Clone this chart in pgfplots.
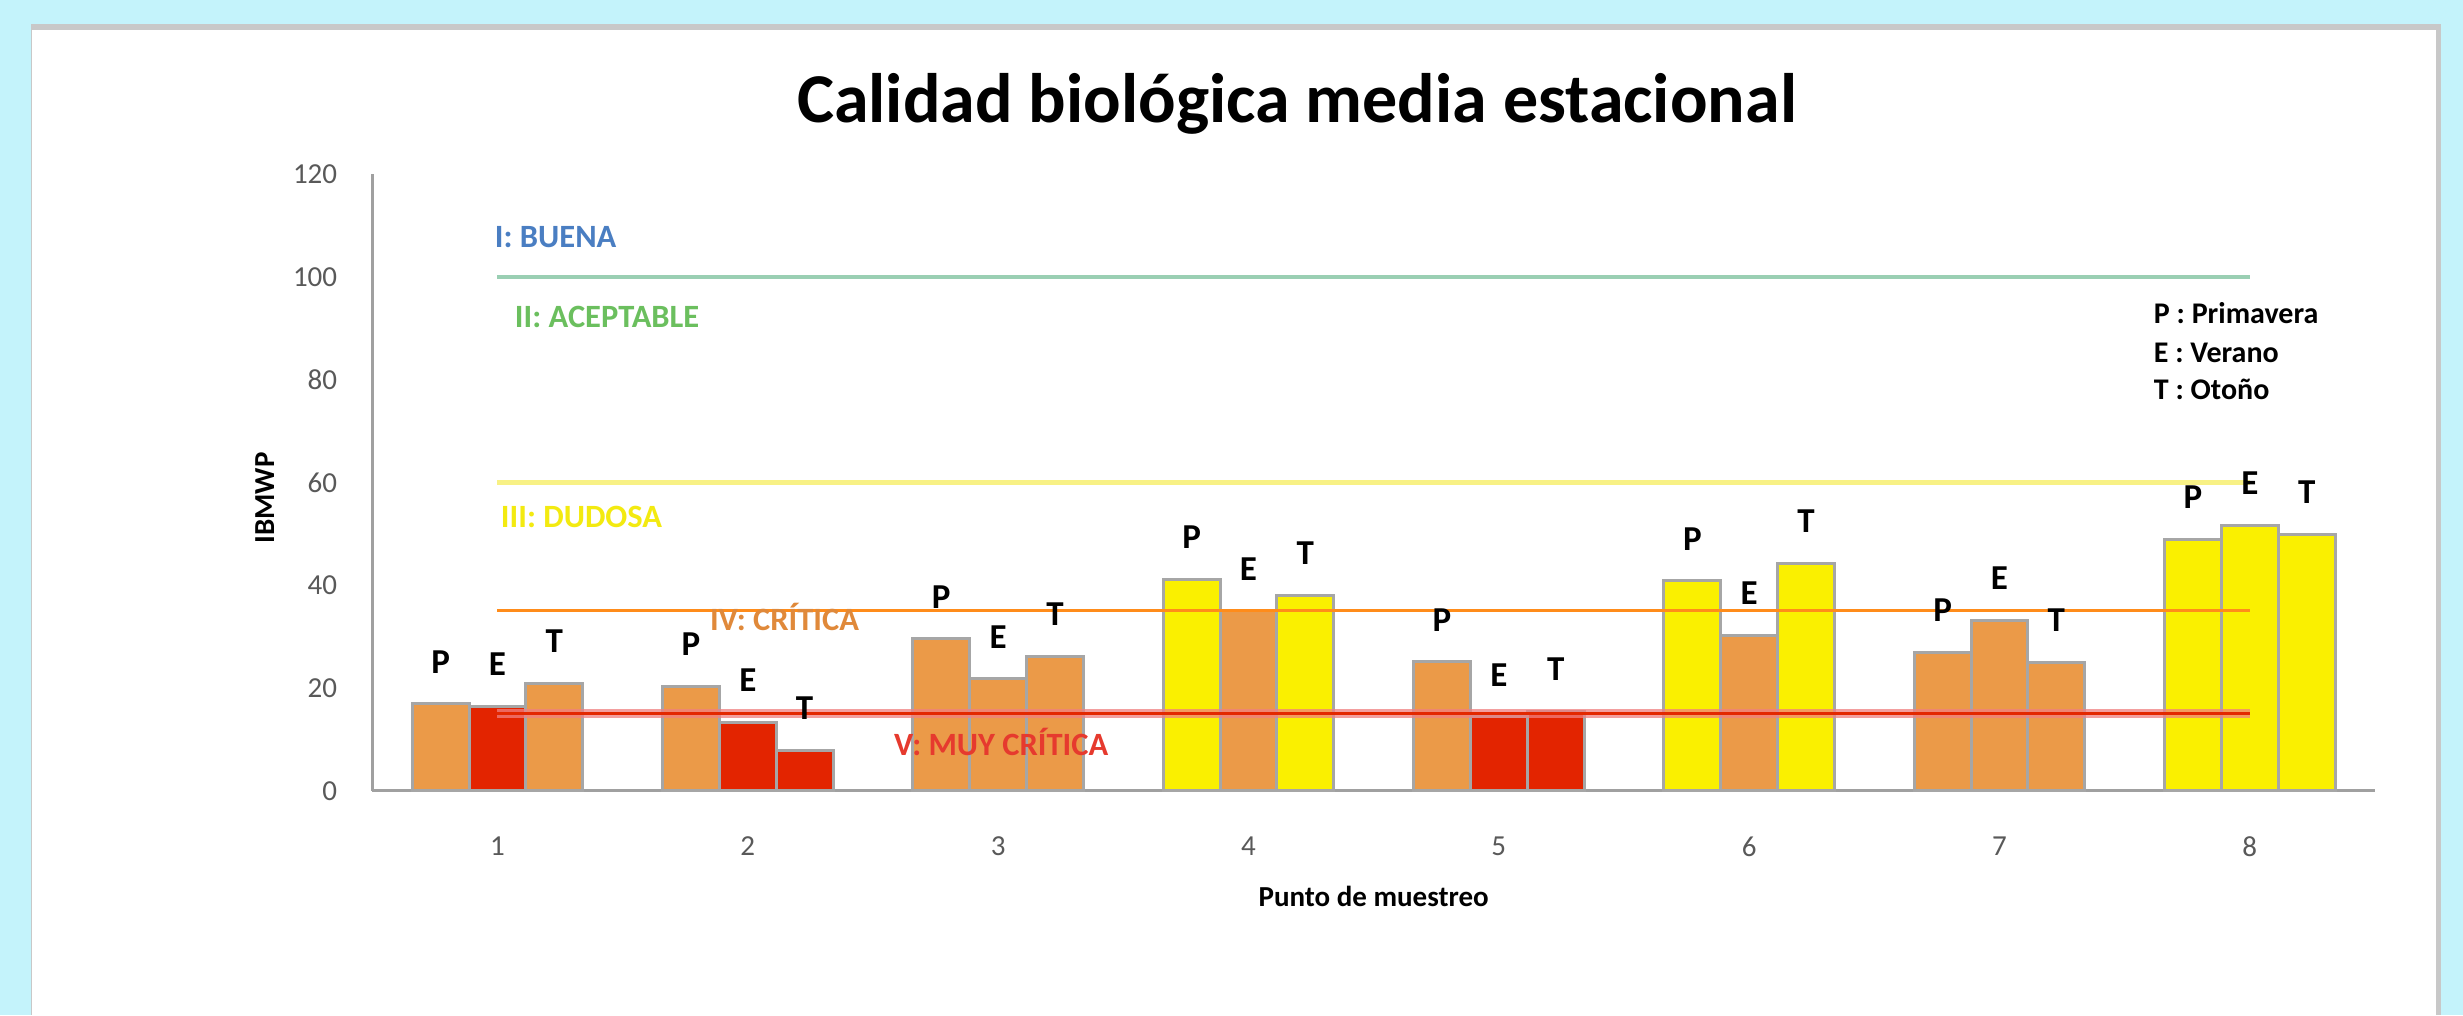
\documentclass[border=0pt]{standalone}
\usepackage{pgfplots}
\pgfplotsset{compat=1.18}
\usepackage{fontspec}
\setmainfont{Carlito}

\definecolor{bgcyan}{HTML}{C4F3FB}
\definecolor{panelgray}{HTML}{C8C8C8}
\definecolor{axisgray}{HTML}{A0A0A0}
\definecolor{tickgray}{HTML}{595959}
\definecolor{bordergray}{HTML}{A6A6A6}
\definecolor{cOr}{HTML}{EB9A48}
\definecolor{cRe}{HTML}{E32400}
\definecolor{cYe}{HTML}{FAF000}
\definecolor{lGreen}{HTML}{9ACFB3}
\definecolor{lYellow}{HTML}{F8F185}
\definecolor{lOrange}{HTML}{FF8C1A}
\definecolor{lRed}{HTML}{E32800}
\definecolor{lRedHalo}{HTML}{F08080}
\definecolor{tBlue}{HTML}{4A7EC2}
\definecolor{tGreen}{HTML}{6BBF5E}
\definecolor{tYellow}{HTML}{F3EA10}
\definecolor{tOrange}{HTML}{E0893A}
\definecolor{tRed}{HTML}{E63A2E}

\pgfplotsset{
  barbase/.style={ybar, bar width=0.227, draw=bordergray, line width=0.6pt},
  barP/.style={barbase, bar shift=-0.227, nodes near coords={P},
    every node near coord/.append style={font=\bfseries\fontsize{7}{8}\selectfont, text=black, yshift=2.5pt, xshift=-11.37pt}},
  barE/.style={barbase, bar shift=0, nodes near coords={E},
    every node near coord/.append style={font=\bfseries\fontsize{7}{8}\selectfont, text=black, yshift=2.5pt}},
  barT/.style={barbase, bar shift=0.227, nodes near coords={T},
    every node near coord/.append style={font=\bfseries\fontsize{7}{8}\selectfont, text=black, yshift=2.5pt, xshift=11.37pt}},
}

\begin{document}
\begin{tikzpicture}
\fill[bgcyan] (0,0) rectangle (492.6pt,203pt);
\fill[white] (6.2pt,0) rectangle (488.2pt,198.2pt);
\fill[panelgray] (6.2pt,197.0pt) rectangle (488.2pt,198.2pt);
\fill[panelgray] (487.2pt,0) rectangle (488.2pt,198.2pt);
\draw[panelgray, line width=0.3pt] (6.3pt,0) -- (6.3pt,198.2pt);

\begin{axis}[
  at={(74.46pt,44.86pt)}, anchor=south west,
  scale only axis, width=400.54pt, height=123.24pt,
  xmin=0.5, xmax=8.5, ymin=0, ymax=120,
  axis x line*=bottom, axis y line*=left,
  axis line style={draw=axisgray, line width=0.6pt},
  xtick={1,2,3,4,5,6,7,8}, ytick={0,20,40,60,80,100,120},
  major tick length=0pt,
  tick label style={font=\fontsize{5.8}{7}\selectfont, text=tickgray},
  /pgf/number format/assume math mode=true,
  xticklabel style={yshift=-5.7pt},
  yticklabel style={xshift=-3.5pt},
  xlabel={Punto de muestreo},
  xlabel style={at={(axis description cs:0.5,0)}, anchor=base, yshift=-23.2pt, font=\bfseries\fontsize{5.8}{7}\selectfont},
  ylabel={IBMWP},
  ylabel style={at={(axis description cs:-0.0537,0.475)}, anchor=center, font=\bfseries\fontsize{5.8}{7}\selectfont},
  title={Calidad biológica media estacional},
  title style={at={(axis description cs:0.4617,1)}, anchor=base, yshift=4.3pt, font=\bfseries\fontsize{14}{16}\selectfont},
  clip=false,
]
% Primavera
\addplot[barP, fill=cOr] coordinates {(1,16.9) (2,20.3) (3,29.6) (5,25.1) (7,26.9)};
\addplot[barP, fill=cYe] coordinates {(4,41.2) (6,40.9) (8,49.0)};
% Verano
\addplot[barE, fill=cRe] coordinates {(1,16.4) (2,13.3) (5,14.4)};
\addplot[barE, fill=cOr] coordinates {(3,21.8) (4,35.0) (6,30.3) (7,33.2)};
\addplot[barE, fill=cYe] coordinates {(8,51.7)};
% Otono
\addplot[barT, fill=cOr] coordinates {(1,20.9) (3,26.2) (7,25.0)};
\addplot[barT, fill=cRe] coordinates {(2,7.8) (5,15.4)};
\addplot[barT, fill=cYe] coordinates {(4,38.0) (6,44.3) (8,49.9)};

% threshold lines
\addplot[lGreen, line width=0.7pt, mark=none] coordinates {(1,100) (8,100)};
\addplot[lYellow, line width=1.0pt, mark=none] coordinates {(1,60) (8,60)};
\addplot[lOrange, line width=0.6pt, mark=none] coordinates {(1,35) (8,35)};
\addplot[lRedHalo, line width=1.9pt, opacity=0.75, mark=none] coordinates {(1,15) (8,15)};
\addplot[lRed, line width=0.7pt, mark=none] coordinates {(1,15) (8,15)};

\node[anchor=base west, inner sep=0pt, font=\bfseries\fontsize{6.5}{8}\selectfont, text=tBlue] at (axis cs:0.986,105.7) {I: BUENA};
\node[anchor=base west, inner sep=0pt, font=\bfseries\fontsize{6.5}{8}\selectfont, text=tGreen] at (axis cs:1.066,90.3) {II: ACEPTABLE};
\node[anchor=base west, inner sep=0pt, font=\bfseries\fontsize{6.5}{8}\selectfont, text=tYellow] at (axis cs:1.010,51.2) {III: DUDOSA};
\node[anchor=base west, inner sep=0pt, font=\bfseries\fontsize{6.5}{8}\selectfont, text=tOrange] at (axis cs:1.845,31.2) {IV: CRÍTICA};
\node[anchor=base west, inner sep=0pt, font=\bfseries\fontsize{6.5}{8}\selectfont, text=tRed] at (axis cs:2.580,6.8) {V: MUY CRÍTICA};

\node[anchor=base west, inner sep=0pt, font=\bfseries\fontsize{6}{7}\selectfont] at (axis cs:7.613,90.9) {P : Primavera};
\node[anchor=base west, inner sep=0pt, font=\bfseries\fontsize{6}{7}\selectfont] at (axis cs:7.613,83.3) {E : Verano};
\node[anchor=base west, inner sep=0pt, font=\bfseries\fontsize{6}{7}\selectfont] at (axis cs:7.613,76.1) {T : Otoño};
\end{axis}
\end{tikzpicture}
\end{document}
